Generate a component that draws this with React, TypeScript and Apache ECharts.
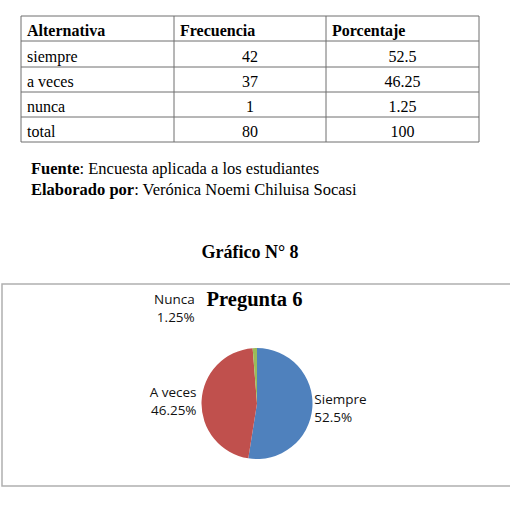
import React, { useEffect, useRef } from "react";
import * as echarts from "echarts";

const headers = ["Alternativa", "Frecuencia", "Porcentaje"];
const rowLabels = ["siempre", "a veces", "nunca", "total"];
const frequencies = [42, 37, 1, 80];
const percentages = ["52.5", "46.25", "1.25", "100"];

const pieNames = ["Siempre", "A veces", "Nunca"];
const pieValues = [52.5, 46.25, 1.25];
const pieColors = ["#4F81BD", "#C0504D", "#9BBB59"];

const chartTitle = "Pregunta 6";
const figureTitle = "Gráfico N° 8";
const sourceLabel = "Fuente";
const sourceText = ": Encuesta aplicada a los estudiantes";
const authorLabel = "Elaborado por";
const authorText = ": Verónica Noemi Chiluisa Socasi";

const SERIF = "Liberation Serif";
const SANS = "Open Sans";

export default function App() {
  const ref = useRef<HTMLDivElement>(null);
  useEffect(() => {
    if (!ref.current) return;
    const chart = echarts.init(ref.current, null, { renderer: "svg" });

    const colX = [21, 174, 326, 479];
    const rowY = [16, 41, 67, 92, 117, 142];
    const graphics: any[] = [];
    const txt = (x: number, y: number, text: string, size: number, bold: boolean, align: string) => ({
      type: "text",
      x,
      y,
      style: {
        text,
        fontFamily: SERIF,
        fontSize: size,
        fontWeight: bold ? "bold" : "normal",
        fill: "#000",
        align,
        verticalAlign: "middle",
      },
    });
    rowY.forEach((y) => {
      graphics.push({
        type: "line",
        shape: { x1: colX[0], y1: y, x2: colX[3], y2: y },
        style: { stroke: "#6e6e6e", lineWidth: 1 },
      });
    });
    colX.forEach((x) => {
      graphics.push({
        type: "line",
        shape: { x1: x, y1: rowY[0], x2: x, y2: rowY[rowY.length - 1] },
        style: { stroke: "#6e6e6e", lineWidth: 1 },
      });
    });
    const headerX = [27, 180, 332];
    headers.forEach((h, i) => {
      graphics.push(txt(headerX[i], rowY[1] - 10.5, h, 16, true, "left"));
    });
    rowLabels.forEach((lab, r) => {
      const cy = rowY[r + 2] - 10.5;
      graphics.push(txt(27, cy, lab, 16, false, "left"));
      graphics.push(txt((colX[1] + colX[2]) / 2, cy, String(frequencies[r]), 16, false, "center"));
      graphics.push(txt((colX[2] + colX[3]) / 2, cy, percentages[r], 16, false, "center"));
    });
    const rich = {
      b: { fontFamily: SERIF, fontSize: 16.5, fontWeight: "bold", fill: "#000" },
      n: { fontFamily: SERIF, fontSize: 16.5, fill: "#000" },
    };
    graphics.push({
      type: "text",
      x: 31,
      y: 168.5,
      style: { text: `{b|${sourceLabel}}{n|${sourceText}}`, rich, align: "left", verticalAlign: "middle" },
    });
    graphics.push({
      type: "text",
      x: 31,
      y: 189.5,
      style: { text: `{b|${authorLabel}}{n|${authorText}}`, rich, align: "left", verticalAlign: "middle" },
    });
    graphics.push(txt(250, 252, figureTitle, 18, true, "center"));
    graphics.push({
      type: "rect",
      shape: { x: 2, y: 284, width: 510, height: 202 },
      style: { fill: "none", stroke: "#b0b0b0", lineWidth: 1.5 },
    });
    const t = txt(254.5, 299, chartTitle, 20.5, true, "center");
    graphics.push({ ...t, z: 10 });

    chart.setOption({
      animation: false,
      graphic: { elements: graphics },
      series: [
        {
          type: "pie",
          center: [257, 403.5],
          radius: [0, 55.5],
          startAngle: 90,
          clockwise: true,
          avoidLabelOverlap: false,
          itemStyle: { borderWidth: 0 },
          label: {
            show: true,
            position: "outside",
            formatter: (p: any) => `${p.name}\n${p.value}%`,
            fontFamily: SANS,
            fontSize: 13.5,
            lineHeight: 18.5,
            color: "#111",
            align: "center",
          },
          labelLine: { show: false, length: 2, length2: 0 },
          labelLayout: (params: any) => {
            if (params.dataIndex === 2) return { dx: -55, dy: -38 };
            if (params.dataIndex === 0) return { dx: -5, dy: 0 };
            if (params.dataIndex === 1) return { dx: 2, dy: 0 };
            return {};
          },
          data: pieNames.map((n, i) => ({
            name: n,
            value: pieValues[i],
            itemStyle: { color: pieColors[i] },
          })),
        },
      ],
    });
    return () => chart.dispose();
  }, []);
  return (
    <div
      ref={ref}
      style={{ position: "fixed", left: 0, top: 0, width: 510, height: 521, background: "#fff" }}
    />
  );
}
